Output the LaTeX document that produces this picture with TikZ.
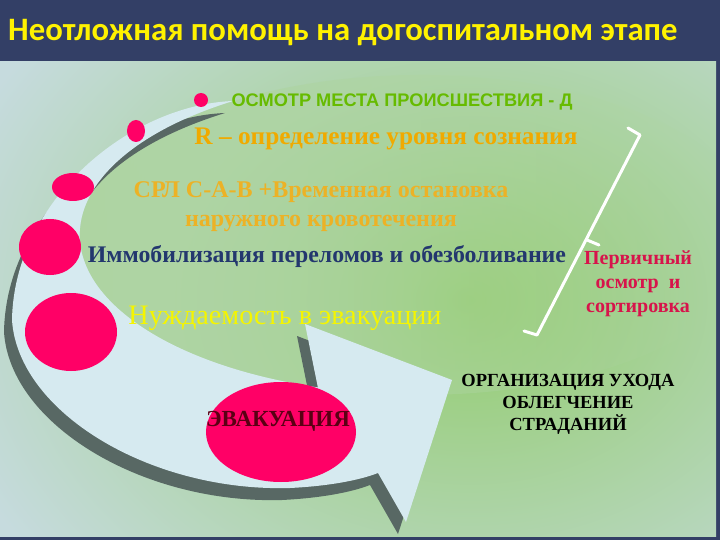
\documentclass[tikz,border=0pt]{standalone}
\usepackage{fontspec}
\setmainfont{Liberation Serif}
\setsansfont{Liberation Sans}
\newfontfamily\titlefont{Carlito}
\usepackage{tikz}
\usetikzlibrary{fadings}
\definecolor{titlenavy}{RGB}{51,63,102}
\definecolor{slidebg}{RGB}{198,219,222}
\definecolor{brightgreen}{RGB}{146,204,108}
\definecolor{palegreen}{RGB}{174,212,162}
\definecolor{bandblue}{RGB}{214,234,240}
\definecolor{bandshadow}{RGB}{88,104,100}
\definecolor{hotpink}{RGB}{255,0,102}
\definecolor{scenegreen}{RGB}{102,187,0}
\definecolor{consorange}{RGB}{240,170,0}
\definecolor{abcgold}{RGB}{236,178,38}
\definecolor{immobnavy}{RGB}{35,55,110}
\definecolor{needyellow}{RGB}{245,245,0}
\definecolor{evacdark}{RGB}{90,0,20}
\definecolor{primcrimson}{RGB}{215,20,75}
\pgfdeclareradialshading{slideglow}{\pgfpoint{0bp}{0bp}}{color(0bp)=(brightgreen); color(19bp)=(slidebg); color(50bp)=(slidebg)}
\tikzfading[name=fade east, left color=transparent!0, right color=transparent!100]
\tikzset{
	label/.style={
		inner sep=0pt,
		align=center
	},
	dot/.style={
		fill=hotpink,
		draw=none
	},
	band path/.style={
		insert path={
			(318,388) -- (305,324) -- (452,380) -- (406,522) -- (378,473)
			.. controls (360,480) and (330,486) .. (290,488)
			.. controls (150,492) and (18,412) .. (12,320)
			.. controls (14,200) and (130,105) .. (233,101)
			arc[start angle=236.7, end angle=107.5, x radius=340, y radius=160]
			-- cycle
		}
	},
	brace/.style={
		draw=white,
		line width=3pt,
		line cap=round,
		line join=round
	}
}

\begin{document}
\begin{tikzpicture}[x=1pt,y=-1pt]
	\useasboundingbox (0,0) rectangle (720,540);
	% slide
	\fill[titlenavy] (0,0) rectangle (720,540);
	\begin{scope}
		\clip (0,62) rectangle (716,536);
		\fill[slidebg] (0,62) rectangle (716,536);
		\shade[shading=slideglow] (470,300) ellipse [x radius=720, y radius=560];
		\fill[palegreen, path fading=fade east] (420,235) ellipse [x radius=340, y radius=160];
	\end{scope}

	% curved arrow
	\begin{scope}[shift={(-8,12)}]
		\fill[bandshadow, band path];
	\end{scope}
	\fill[bandblue, band path];

	% circles along the arrow
	\foreach \cx/\cy/\rx/\ry in {201/100/7/7, 136/131/9/11, 73/187/21/14, 50/247/31/28, 71/332/46/39, 281/432/75/50}
		\fill[dot] (\cx,\cy) ellipse [x radius=\rx, y radius=\ry];

	\node[label, anchor=base west, text=yellow, font=\titlefont\bfseries\fontsize{32.7}{36}\selectfont] (title) at (8,41) {Неотложная помощь на догоспитальном этапе};

	\node[label, anchor=base, text=scenegreen, font=\sffamily\bfseries\fontsize{18.2}{20}\selectfont] (scene) at (402,107) {ОСМОТР МЕСТА ПРОИСШЕСТВИЯ - Д};
	\node[label, anchor=base, text=consorange, font=\bfseries\fontsize{25.3}{28}\selectfont] (conscious) at (386,145) {R – определение уровня сознания};
	\node[label, text=abcgold, font=\bfseries\fontsize{24}{29}\selectfont] (abc) at (321,207) {СРЛ С-А-В +Временная остановка\\наружного кровотечения};
	\node[label, anchor=base, text=immobnavy, font=\bfseries\fontsize{23.8}{26}\selectfont] (immob) at (327,262) {Иммобилизация переломов и обезболивание};
	\node[label, anchor=base, text=needyellow, font=\fontsize{28.2}{30}\selectfont] (need) at (285,324) {Нуждаемость в эвакуации};
	\node[label, text=evacdark, font=\bfseries\fontsize{23}{24}\selectfont] (evac) at (278,421) {ЭВАКУАЦИЯ};

	\node[label, font=\bfseries\fontsize{18.5}{22}\selectfont] (care) at (568,404) {ОРГАНИЗАЦИЯ УХОДА\\ОБЛЕГЧЕНИЕ\\СТРАДАНИЙ};
	\node[label, text=primcrimson, font=\bfseries\fontsize{20}{24}\selectfont] (primary) at (638,284) {Первичный\\осмотр~ и\\сортировка};

	% bracket
	\draw[brace] (628,128) -- (640,135) -- (537,335) -- (524,331);
	\draw[brace] (587,240) -- (599,245);
\end{tikzpicture}
\end{document}
